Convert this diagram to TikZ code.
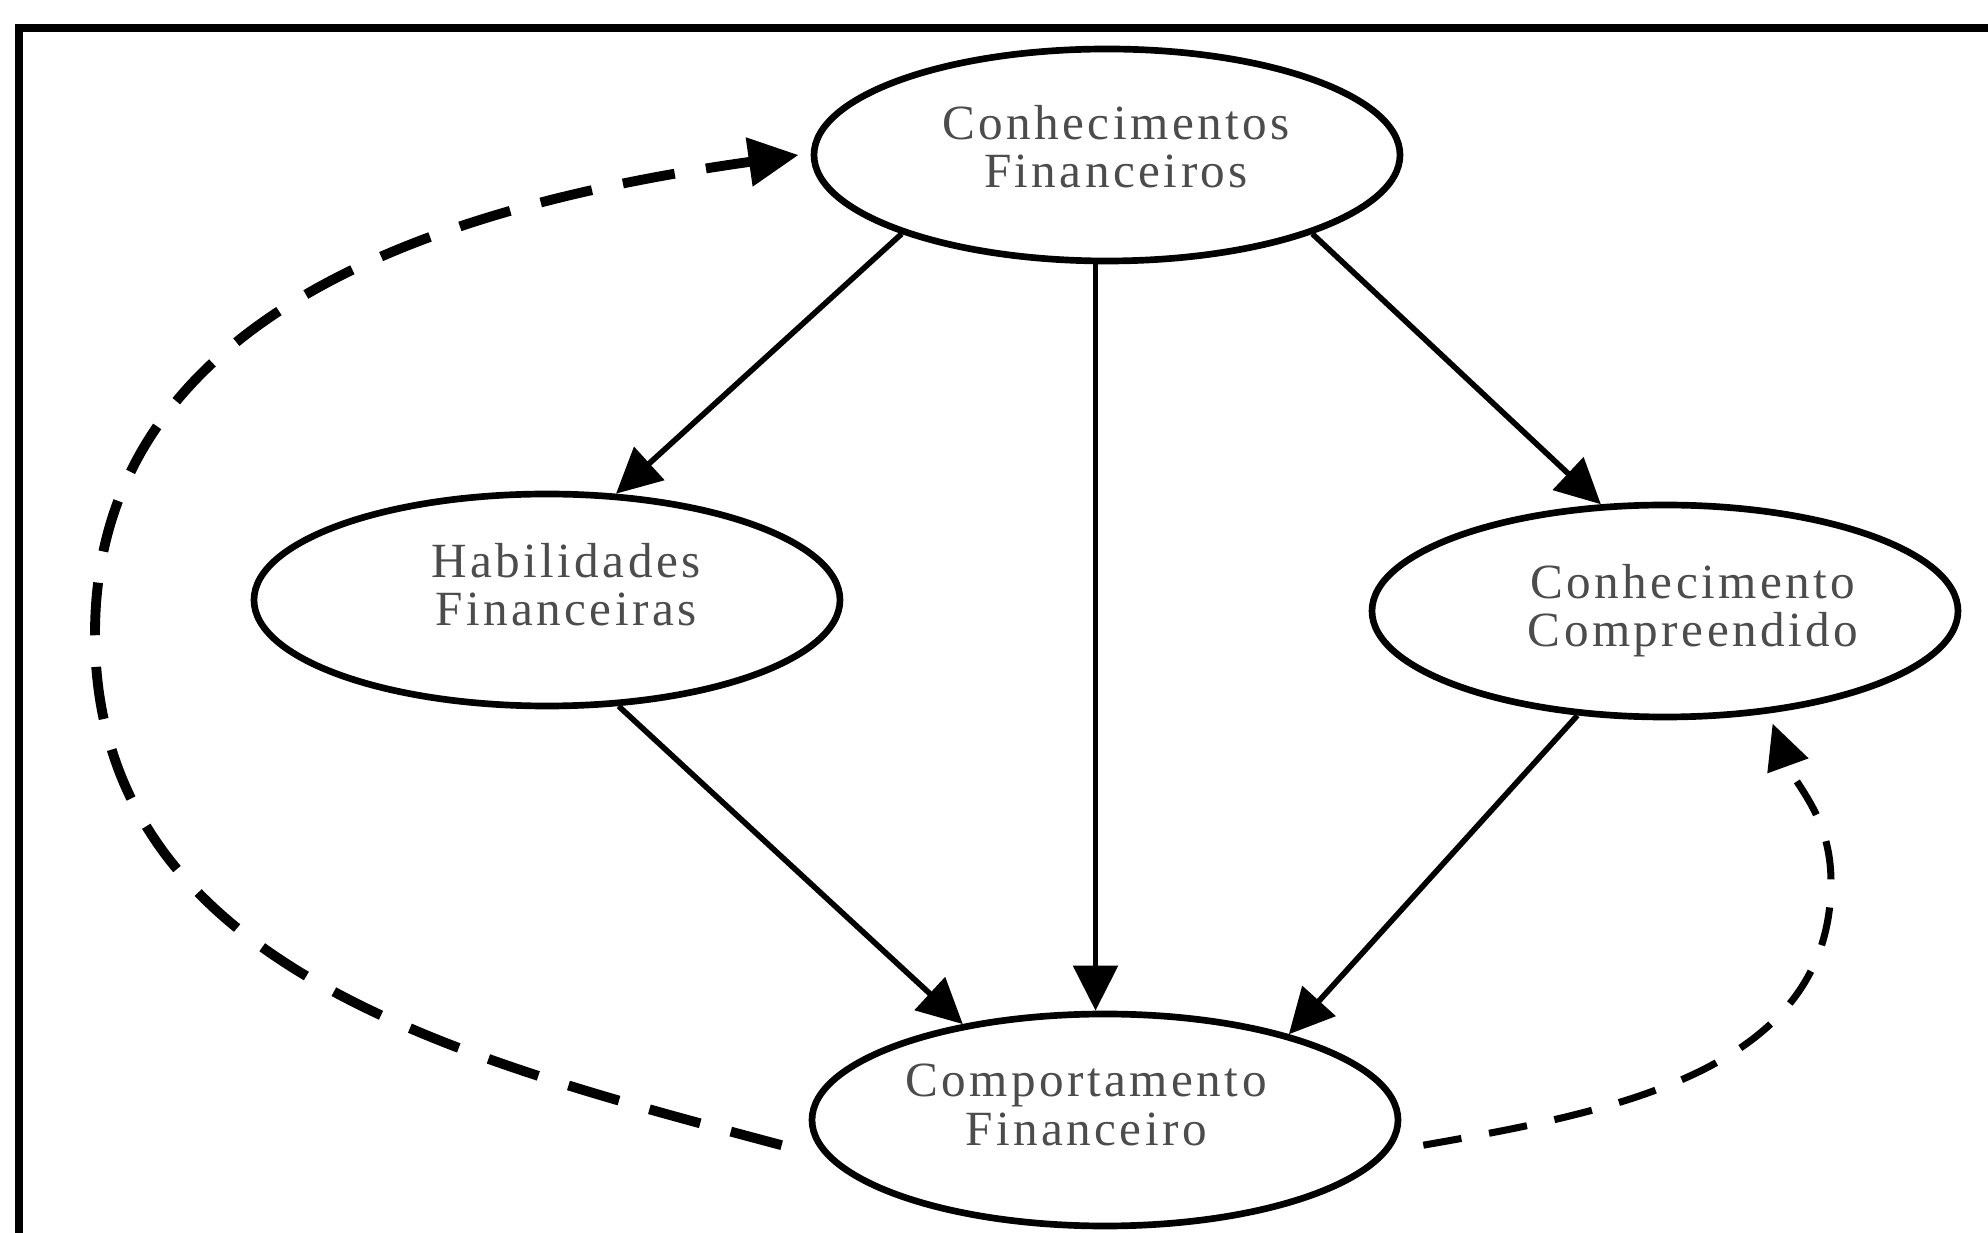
\documentclass[tikz,border=0pt]{standalone}
\usepackage{fontspec}
\setmainfont{Liberation Serif}[LetterSpace=7]
\usetikzlibrary{arrows.meta,shapes.geometric}

\begin{document}
\begin{tikzpicture}[
		caixa/.style={ellipse, draw, line width=1.9pt, minimum width=5.86cm, minimum height=2.12cm, inner sep=0pt},
		rotulo/.style={align=center, text=black!70, inner sep=0pt, font=\fontsize{14}{13.7}\selectfont},
		seta/.style={line width=1.6pt, -{Triangle[length=0.45cm,width=0.44cm]}},
		tracejado/.style={line width=2.8pt, dash pattern=on 15pt off 9pt, -{Triangle[length=0.5cm,width=0.47cm]}},
		tracejadofino/.style={line width=2pt, dash pattern=on 11pt off 8pt, -{Triangle[length=0.45cm,width=0.42cm]}}
	]
			\useasboundingbox (0,0) rectangle (19.88,12.32);
			\draw[line width=2pt] (21,12.04) -- (0.19,12.04) -- (0.19,-1);
			\node[caixa, label={[rotulo, xshift=0.09cm, yshift=0.08cm]center:{Conhecimentos\\Financeiros}}] (conhec) at (11.07,10.77) {};
			\node[caixa, label={[rotulo, xshift=0.19cm, yshift=0.15cm]center:{Habilidades\\Financeiras}}] (habil) at (5.47,6.32) {};
			\node[caixa, label={[rotulo, xshift=0.28cm]center:{Conhecimento\\Compreendido}}] (compr) at (16.65,6.21) {};
			\node[caixa, label={[rotulo, xshift=-0.19cm, yshift=0.15cm]center:{Comportamento\\Financeiro}}] (comport) at (11.05,1.12) {};
			\draw[seta] (conhec.201) -- (habil.57);
			\draw[seta] (conhec.264) -- (conhec.264 |- comport.north);
			\draw[seta] (conhec.339) -- (compr.121);
			\draw[seta] (habil.304) -- (comport.146);
			\draw[seta] (compr.230) -- (comport.25);
			% retorno pela esquerda e pela direita
			\coordinate (voltaesq) at (0.95,5.98);
			\coordinate (voltadir) at (18.31,3.5);
			\draw[tracejado] ([xshift=-0.35cm]comport.185) to[out=165,in=-90] (voltaesq)
				to[out=90,in=188] ([xshift=-0.12cm]conhec.west);
			\draw[tracejadofino] ([xshift=0.3cm]comport.355) to[out=10,in=-90] (voltadir)
				to[out=90,in=-70] ([xshift=0.05cm,yshift=-0.1cm]compr.315);
		\end{tikzpicture}
\end{document}
